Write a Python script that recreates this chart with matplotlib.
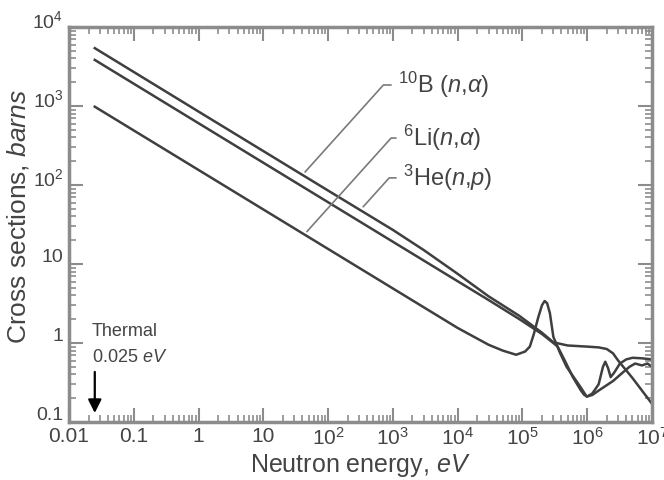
import numpy as np
import matplotlib.pyplot as plt
import matplotlib.transforms as mtransforms
from matplotlib.ticker import LogLocator, NullFormatter

plt.rcParams['font.family'] = ['Liberation Sans', 'DejaVu Sans']
plt.rcParams['mathtext.fontset'] = 'custom'
plt.rcParams['mathtext.rm'] = 'Liberation Sans'
plt.rcParams['mathtext.it'] = 'Liberation Sans:italic'

# cross sections (barns)
he3_e = [0.025, 1, 1e2, 1e3, 3e3, 1e4, 3e4, 9e4, 2e5, 3e5, 5e5, 1e6, 1.5e6, 2e6, 2.5e6, 3e6, 5e6, 1e7]
he3_xs = [5400, 850, 85, 27, 15, 7.5, 3.9, 2.2, 1.35, 1.02, 0.93, 0.9, 0.88, 0.84, 0.74, 0.6, 0.36, 0.17]

b10_e = [0.025, 1, 1e2, 1e4, 3e4, 9e4, 2e5, 3e5, 3.5e5, 4.5e5, 6e5, 8e5, 9e5, 1e6, 1.2e6,
         1.5e6, 1.75e6, 1.9e6, 2.1e6, 2.3e6, 2.6e6, 3.2e6, 4e6, 5e6, 7e6, 1e7]
b10_xs = [3830, 605, 60.5, 6.05, 3.5, 2.0, 1.3, 1.0, 0.9, 0.6, 0.37, 0.25, 0.22, 0.21, 0.23,
          0.3, 0.5, 0.58, 0.48, 0.37, 0.42, 0.55, 0.62, 0.65, 0.64, 0.62]

li6_e = [0.025, 1, 1e2, 1e4, 3e4, 5e4, 8e4, 1.1e5, 1.3e5, 1.5e5, 1.75e5, 2e5, 2.2e5, 2.4e5,
         2.65e5, 3e5, 3.8e5, 4.8e5, 7.8e5, 9.8e5, 1.2e6, 1.5e6, 2.5e6, 3.5e6, 4.5e6, 5.5e6,
         7e6, 8.5e6, 1e7]
li6_xs = [980, 155, 15.5, 1.55, 0.95, 0.8, 0.71, 0.78, 0.9, 1.3, 2.1, 3.0, 3.4, 3.2,
          2.4, 1.2, 0.75, 0.5, 0.28, 0.21, 0.22, 0.25, 0.33, 0.42, 0.5, 0.55,
          0.52, 0.55, 0.5]

x_ticks = [1e-2, 1e-1, 1, 10, 1e2, 1e3, 1e4, 1e5, 1e6, 1e7]
x_labels = ['0.01', '0.1', '1', '10', '10$^2$', '10$^3$', '10$^4$', '10$^5$', '10$^6$', '10$^7$']
y_ticks = [0.1, 1, 10, 1e2, 1e3, 1e4]
y_labels = ['0.1', '1', '10', '10$^2$', '10$^3$', '10$^4$']

line_c = '#3f3f3f'
grey = '#8c8c8c'
text_c = '#444444'

fig = plt.figure(figsize=(6.64, 4.8), dpi=100)
ax = fig.add_axes([69/664, 58/480, 583/664, 395/480])

ax.plot(he3_e, he3_xs, color=line_c, lw=1.8)
ax.plot(b10_e, b10_xs, color=line_c, lw=1.8)
ax.plot(li6_e, li6_xs, color=line_c, lw=1.8)

ax.set_xscale('log')
ax.set_yscale('log')
ax.set_xlim(0.01, 1e7)
ax.set_ylim(0.1, 1e4)

ax.set_xticks(x_ticks)
ax.set_xticklabels(x_labels)
ax.set_yticks(y_ticks)
ax.set_yticklabels(y_labels)
for axis in (ax.xaxis, ax.yaxis):
    axis.set_minor_locator(LogLocator(base=10, subs=np.arange(2, 10), numticks=20))
    axis.set_minor_formatter(NullFormatter())

ax.tick_params(which='both', direction='in', top=True, right=True, color=grey,
               labelsize=15, labelcolor=text_c)
ax.tick_params(axis='y', labelsize=14, pad=4)
ax.tick_params(which='major', length=10, width=1.5)
ax.tick_params(which='minor', length=5, width=1.2)
for s in ax.spines.values():
    s.set_color(grey)
    s.set_linewidth(2.5)

# y tick labels sit a little above their ticks in the original
shift = mtransforms.ScaledTranslation(0, 6/72, fig.dpi_scale_trans)
for lab in ax.get_yticklabels():
    lab.set_transform(lab.get_transform() + shift)

ax.set_xlabel('Neutron energy, $eV$', fontsize=18, color=text_c, labelpad=2)
ax.set_ylabel('Cross sections, $barns$', fontsize=19, color=text_c)
ax.yaxis.set_label_coords(-0.066, 0.52)

# labels with leader lines
leader = dict(arrowstyle='-', color='#7a7a7a', lw=1.2, relpos=(0, 0.5),
              connectionstyle='angle,angleA=0,angleB=48,rad=0', shrinkA=3, shrinkB=0)
ax.annotate('$^{10}$B ($n$,$α$)', xy=(44, 146), xytext=(1200, 1845),
            fontsize=17, color=text_c, va='center', arrowprops=leader)
ax.annotate('$^{6}$Li($n$,$α$)', xy=(47, 25.7), xytext=(1430, 393),
            fontsize=17, color=text_c, va='center', arrowprops=leader)
ax.annotate('$^{3}$He($n$,$p$)', xy=(348, 53), xytext=(1430, 123),
            fontsize=17, color=text_c, va='center', arrowprops=leader)

# thermal neutron marker
ax.text(0.0226, 1.38, 'Thermal', fontsize=13, color=text_c, va='center')
ax.text(0.0226, 0.65, '0.025 $eV$', fontsize=13, color=text_c, va='center')
ax.annotate('', xy=(0.025, 0.13), xytext=(0.025, 0.43),
            arrowprops=dict(arrowstyle='-|>', color='black', lw=1.6,
                            mutation_scale=20, shrinkA=0, shrinkB=0))

plt.savefig('out.png', dpi=100)
